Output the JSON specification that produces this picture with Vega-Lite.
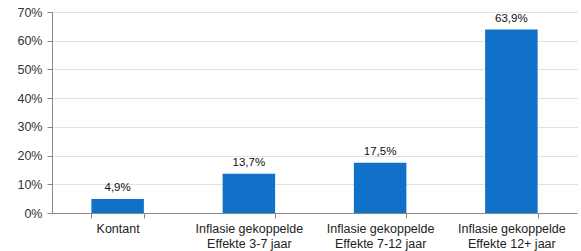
{
  "$schema": "https://vega.github.io/schema/vega-lite/v6.json",
  "autosize": "none",
  "width": 525,
  "height": 201,
  "padding": {"left": 52, "top": 12, "right": 4, "bottom": 38},
  "data": {"values": [
    {"cat": "Kontant", "v": 0.049},
    {"cat": "Inflasie gekoppelde|Effekte 3-7 jaar", "v": 0.137},
    {"cat": "Inflasie gekoppelde|Effekte 7-12 jaar", "v": 0.175},
    {"cat": "Inflasie gekoppelde|Effekte 12+ jaar", "v": 0.639}
  ]},
  "config": {
    "locale": {"number": {"decimal": ",", "thousands": ".", "grouping": [3], "currency": ["€", ""]}},
    "view": {"stroke": null},
    "font": "Liberation Sans"
  },
  "encoding": {
    "x": {"field": "cat", "type": "nominal", "sort": null,
      "scale": {"paddingInner": 0.6, "paddingOuter": 0.3},
      "axis": {"title": null, "labelAngle": 0, "labelExpr": "split(datum.label, '|')",
        "tickBand": "extent", "tickColor": "#888", "tickSize": 5, "domainColor": "#888",
        "labelFont": "Liberation Sans", "labelFontSize": 12.5, "labelColor": "#222", "labelPadding": 4, "labelLineHeight": 15}},
    "y": {"field": "v", "type": "quantitative",
      "scale": {"domain": [0, 0.7]},
      "axis": {"title": null, "format": ".0%", "values": [0, 0.1, 0.2, 0.3, 0.4, 0.5, 0.6, 0.7],
        "gridColor": "#c4c4c4", "gridDash": [1, 1], "domainColor": "#888", "tickColor": "#888", "tickSize": 5,
        "labelFont": "Liberation Sans", "labelFontSize": 12.5, "labelColor": "#333", "labelPadding": 5}}
  },
  "layer": [
    {"mark": {"type": "bar", "color": "#1170C8"}},
    {"mark": {"type": "text", "baseline": "bottom", "dy": -6, "fontSize": 11.5, "color": "#111", "font": "Liberation Sans"},
      "encoding": {"text": {"field": "v", "type": "quantitative", "format": ".1%"}}}
  ]
}
